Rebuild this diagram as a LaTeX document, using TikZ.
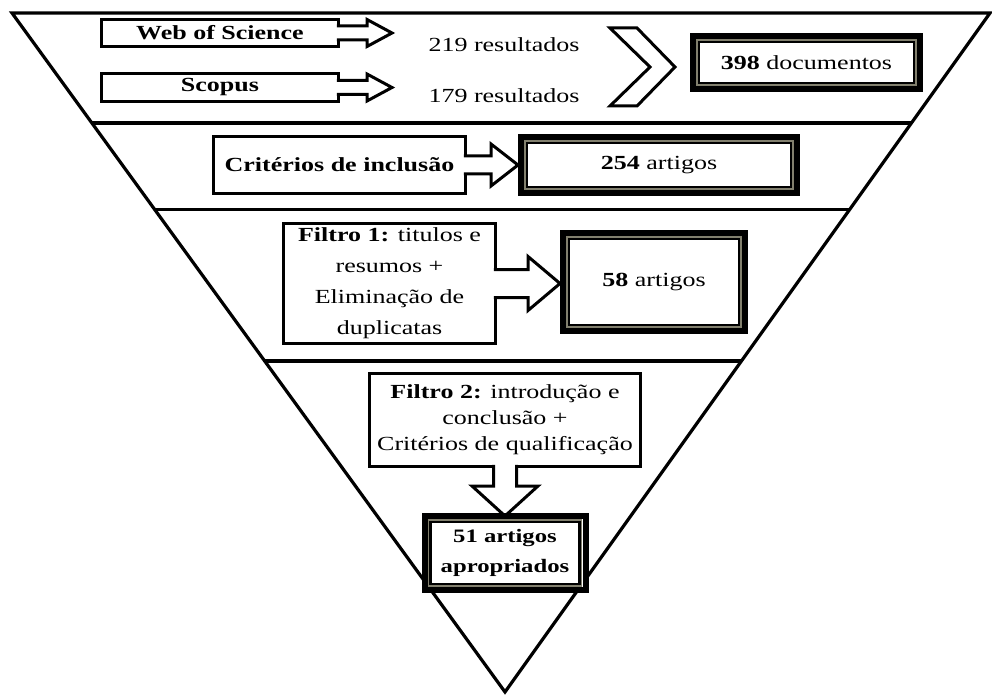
\documentclass[tikz,border=0pt]{standalone}
\usepackage{fontspec}
\setmainfont{Liberation Serif}[FakeStretch=1.3]
\usetikzlibrary{calc}
\definecolor{framegray}{RGB}{130,128,110}
\newcommand\txtsize{\fontsize{20}{26}\selectfont}
\newcommand\dblframe[1]{%
  \draw[line width=6pt] (#1.north west) rectangle (#1.south east);
  \draw[line width=1.5pt, framegray] ([shift={(4pt,-4pt)}]#1.north west) rectangle ([shift={(-4pt,4pt)}]#1.south east);
  \draw[line width=2.5pt] ([shift={(6pt,-6pt)}]#1.north west) rectangle ([shift={(-6pt,6pt)}]#1.south east);}
% right block arrow: from node, tip coordinate, head length, shaft half, head half
\newcommand\rblock[5]{%
  \draw[barrow] ([xshift=-1.6pt,yshift=#4]#1.east) -- ([xshift=-#3,yshift=#4]#2) -- ([xshift=-#3,yshift=#5]#2) -- (#2)
    -- ([xshift=-#3,yshift=-#5]#2) -- ([xshift=-#3,yshift=-#4]#2) -- ([xshift=-1.6pt,yshift=-#4]#1.east);}
\begin{document}
\begin{tikzpicture}[x=1pt,y=-1pt,
  box/.style={draw, line width=3pt, fill=white, inner sep=0pt, outer sep=0pt, align=center, font=\txtsize},
  frm/.style={fill=white, inner sep=0pt, outer sep=0pt, align=center, font=\txtsize},
  lbl/.style={inner sep=0pt, outer sep=0pt, font=\txtsize},
  band/.style={line width=3.2pt},
  barrow/.style={line width=3pt, fill=white, line join=miter}]
\useasboundingbox (0,0) rectangle (992,695);
\fill[white] (0,0) rectangle (992,695);

% triangle
\coordinate (TL) at (12,13);
\coordinate (TR) at (990,13);
\coordinate (B) at (505,692);
\draw[band, line join=miter] (TL) -- (TR) -- (B) -- cycle;
\draw[band] ($(TL)!0.162!(B)$) -- ($(TR)!0.162!(B)$);
\draw[band] ($(TL)!0.2895!(B)$) -- ($(TR)!0.2895!(B)$);
\draw[band] ($(TL)!0.5125!(B)$) -- ($(TR)!0.5125!(B)$);

% band 1
\node[box, minimum width=237, minimum height=27] (wos) at (220,33) {\textbf{Web of Science}};
\node[box, minimum width=237, minimum height=28] (sco) at (220,87.5) {\textbf{Scopus}};
\node[lbl] (r1) at (504,45) {219 resultados};
\node[lbl] (r2) at (504,96) {179 resultados};
\coordinate (tA) at (392,33);
\coordinate (tB) at (392,87.5);
\rblock{wos}{tA}{25pt}{7pt}{13.5pt}
\rblock{sco}{tB}{25pt}{7pt}{13.5pt}
\draw[line width=3pt, line join=miter, fill=white] (610,28) -- (637,28) -- (675,67) -- (637,106) -- (610,106) -- (650,67) -- cycle;
\node[frm, minimum width=227, minimum height=53] (docs) at (806.5,62.5) {\textbf{398} documentos};
\dblframe{docs}

% band 2
\node[box, minimum width=252, minimum height=57] (crit) at (339.5,165) {\textbf{Critérios de inclusão}};
\node[frm, minimum width=276, minimum height=56] (a254) at (659,165) {\textbf{254} artigos};
\path ([xshift=-3pt]a254.west) coordinate (tC);
\rblock{crit}{tC}{27pt}{9pt}{21pt}
\dblframe{a254}

% band 3
\node[box, minimum width=212, minimum height=120, font=\fontsize{20}{31}\selectfont] (f1) at (389.5,283.5) {\textbf{Filtro 1:} titulos e\\resumos +\\Eliminação de\\duplicatas};
\node[frm, minimum width=182, minimum height=98] (a58) at (654,282) {\textbf{58} artigos};
\path ([xshift=-3pt]a58.west) coordinate (tmp);
\coordinate (tF) at (tmp |- f1.east);
\rblock{f1}{tF}{32pt}{14pt}{27pt}
\dblframe{a58}

% band 4
\node[box, minimum width=271, minimum height=93] (f2) at (505,420) {\textbf{Filtro 2:} introdução e\\conclusão +\\Critérios de qualificação};
\node[frm, minimum width=161, minimum height=74, font=\fontsize{19}{30}\selectfont] (a51) at (505,553) {\textbf{51 artigos}\\\textbf{apropriados}};
\draw[barrow] ([xshift=-11.5pt,yshift=1.6pt]f2.south) -- ([xshift=-11.5pt,yshift=30pt]a51.north)
  -- ([xshift=-33pt,yshift=30pt]a51.north) -- (a51.north) -- ([xshift=33pt,yshift=30pt]a51.north)
  -- ([xshift=11.5pt,yshift=30pt]a51.north) -- ([xshift=11.5pt,yshift=1.6pt]f2.south);
\dblframe{a51}
\end{tikzpicture}
\end{document}
